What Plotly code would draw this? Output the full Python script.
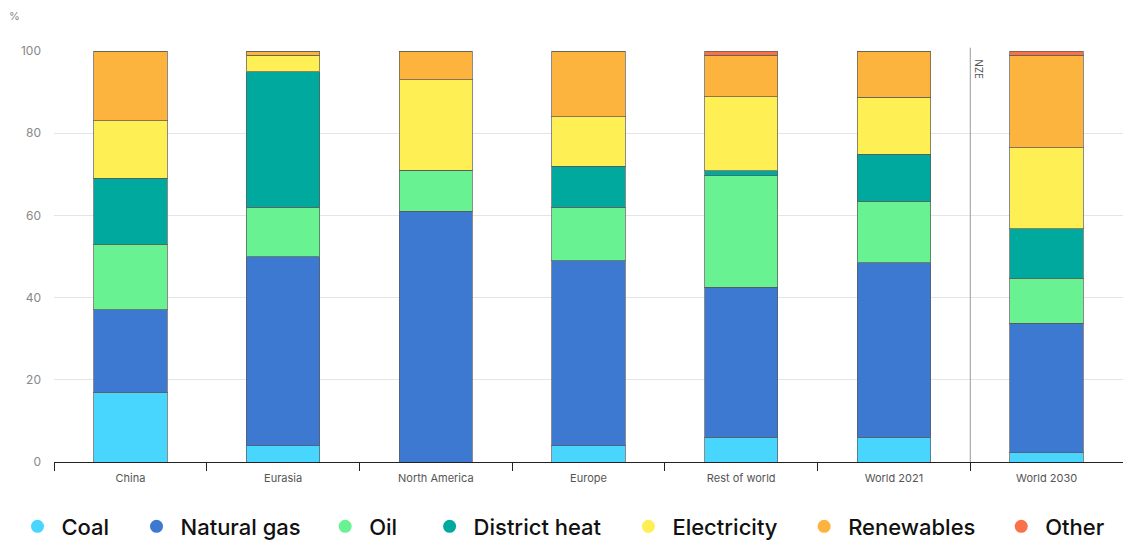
import plotly.graph_objects as go

# Share of final energy consumption in buildings, by fuel (%)
categories = ["China", "Eurasia", "North America", "Europe",
              "Rest of world", "World 2021", "World 2030"]
coal = [17, 4, 0, 4, 6, 6, 2.2]
natural_gas = [20, 46, 61, 45, 36.5, 42.5, 31.5]
oil = [16, 12, 10, 13, 27.2, 15, 11]
district_heat = [16, 33, 0, 10, 1.2, 11.4, 12]
electricity = [14, 4, 22, 12, 18, 13.8, 19.8]
renewables = [17, 1, 7, 16, 10.1, 11.3, 22.5]
other = [0, 0, 0, 0, 1, 0, 1]

series_names = ["Coal", "Natural gas", "Oil", "District heat",
                "Electricity", "Renewables", "Other"]
series_values = [coal, natural_gas, oil, district_heat,
                 electricity, renewables, other]
colors = ["#48D5FE", "#3D78D1", "#69F291", "#00A99D",
          "#FEEF55", "#FDB43F", "#F97049"]

y_ticks = [0, 20, 40, 60, 80, 100]

# legend entry positions (container fraction) for each fuel
legend_x = [0.012, 0.118, 0.286, 0.379, 0.556, 0.7125, 0.888]

W, H = 1123, 540

fig = go.Figure()

for name, vals, col in zip(series_names, series_values, colors):
    fig.add_trace(go.Bar(
        x=categories, y=vals, name=name, showlegend=False,
        marker=dict(color=col, line=dict(color="rgba(90,90,90,0.7)", width=1)),
    ))

# circular legend markers, one legend per fuel so each sits at its own spot
for i, (name, col) in enumerate(zip(series_names, colors)):
    lg = "legend" if i == 0 else f"legend{i + 1}"
    fig.add_trace(go.Scatter(
        x=[None], y=[None], mode="markers", name=name, legend=lg,
        marker=dict(color=col, size=13, symbol="circle"),
    ))

legend_style = dict(
    orientation="h", xref="container", yref="container",
    xanchor="left", yanchor="middle", y=0.025,
    font=dict(family="Inter", size=22, color="#111", weight=500),
    bgcolor="rgba(0,0,0,0)", borderwidth=0, itemwidth=38,
)
layout_legends = {}
for i in range(len(series_names)):
    key = "legend" if i == 0 else f"legend{i + 1}"
    layout_legends[key] = dict(legend_style, x=legend_x[i])

fig.update_layout(
    width=W, height=H,
    barmode="stack", bargap=0.52,
    plot_bgcolor="white", paper_bgcolor="white",
    margin=dict(l=54, r=0, t=51, b=78),
    font=dict(family="Inter", color="#555"),
    **layout_legends,
)

fig.update_xaxes(
    type="category", tickson="boundaries", ticks="outside", ticklen=8,
    tickcolor="#222", tickwidth=1, showline=True, linecolor="#222",
    linewidth=1, showgrid=False, ticklabelstandoff=6,
    tickfont=dict(family="Inter", size=11, color="#555"),
)
fig.update_yaxes(
    range=[0, 100], tickvals=y_ticks, showgrid=True, gridcolor="#e5e5e5",
    gridwidth=1, zeroline=False, showline=False, ticks="",
    ticklabelstandoff=12,
    tickfont=dict(family="Inter", size=12, color="#888"),
)

# NZE divider between the 2021 and 2030 world bars
fig.add_shape(type="line", xref="x", yref="paper", x0=5.5, x1=5.5,
              y0=0, y1=1.008, line=dict(color="#999", width=1))
fig.add_annotation(text="NZE", xref="x", yref="y", x=5.5, y=95.5,
                   xshift=9, textangle=90, showarrow=False,
                   font=dict(family="Inter", size=10, color="#555"))

fig.add_annotation(text="%", xref="paper", yref="paper", x=-0.037, y=1.085,
                   xanchor="center", yanchor="middle", showarrow=False,
                   font=dict(family="Inter", size=11, color="#888"))

fig.write_html("out.html")
